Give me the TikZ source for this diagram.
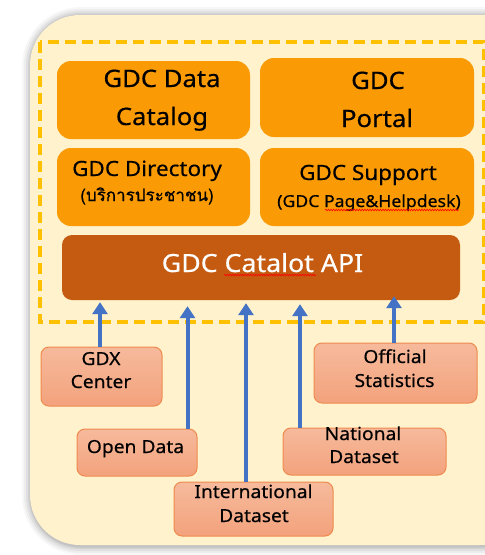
\documentclass[tikz,border=0pt]{standalone}
\usepackage{fontspec}
\setmainfont{Noto Sans}[FakeStretch=1.07,FakeBold=0.4]
\newfontfamily\thaifont[Script=Thai,FakeBold=0.4]{Loma}
\usetikzlibrary{arrows.meta,decorations.pathmorphing}
\definecolor{bgC}{HTML}{FFF2CC}
\definecolor{dashC}{HTML}{FFC000}
\definecolor{orangeC}{HTML}{FA9A05}
\definecolor{apiC}{HTML}{C55A11}
\definecolor{arrC}{HTML}{4472C4}
\definecolor{srcB}{HTML}{EF8A4E}
\definecolor{srcT}{HTML}{F6BA9C}
\definecolor{srcBot}{HTML}{F3A27C}
\newcommand\fBig{\fontsize{24pt}{28pt}\selectfont}
\newcommand\fMid{\fontsize{21pt}{25pt}\selectfont}
\newcommand\fSm{\fontsize{17pt}{20pt}\selectfont}
\newcommand\fSrc{\fontsize{18pt}{21pt}\selectfont}
\begin{document}
\begin{tikzpicture}[x=1pt,y=-1pt,
  box/.style={draw=none, fill=orangeC, rounded corners=14pt, inner sep=0pt},
  apibox/.style={draw=none, fill=apiC, rounded corners=10pt, inner sep=0pt},
  src/.style={draw=srcB, line width=1pt, top color=srcT, bottom color=srcBot, rounded corners=8pt, inner sep=0pt},
  txt/.style={anchor=base, inner sep=0pt, text=black},
  arr/.style={draw=arrC, line width=4pt, -{Triangle[width=15pt,length=12pt]}},
  squig/.style={draw=red, line width=0.6pt, decorate, decoration={snake, amplitude=0.8pt, segment length=2.6pt}}
]
\useasboundingbox (0,0) rectangle (485,555);
\fill[white] (0,0) rectangle (485,555);
\begin{scope}
\clip (0,0) rectangle (485,555);
% shadow
\foreach \w/\o in {18/0.03,14/0.04,10/0.05,6/0.06,3/0.07} {
  \draw[black, opacity=\o, line width=\w pt, rounded corners=50pt] (31,16) rectangle (532,546);
}
\fill[bgC, rounded corners=50pt] (30,15) rectangle (530,545);
\draw[dashC, line width=3.5pt, dash pattern=on 11pt off 6pt] (40,42) rectangle (483.5,322);

% top boxes
\node[box, minimum width=193pt, minimum height=78pt] (cat) at (153.5,100) {};
\node[txt] (catA) at (162,87) {\fBig GDC Data};
\node[txt] (catB) at (162,125) {\fBig Catalog};

\node[box, minimum width=214pt, minimum height=79pt] (por) at (367,97.5) {};
\node[txt] (porA) at (378,89) {\fBig GDC};
\node[txt] (porB) at (377,127) {\fBig Portal};

\node[box, minimum width=193pt, minimum height=78pt] (dir) at (153.5,187) {};
\node[txt] (dirA) at (147,176) {\fMid GDC Directory};
\node[txt] (dirB) at (147,201) {\thaifont\fSm (บริการประชาชน)};

\node[box, minimum width=214pt, minimum height=78pt] (sup) at (367,187) {};
\node[txt] (supA) at (368,180) {\fMid GDC Support};
\node[txt] (supB) at (369,207) {\fontsize{16.5pt}{19pt}\selectfont (GDC Page\&Helpdesk)};
\draw[squig] (325,210) -- (459,210);

\node[apibox, minimum width=398pt, minimum height=65pt] (api) at (261,267.5) {};
\node[txt, text=white] (apiT) at (262.5,272) {\fontsize{25pt}{29pt}\selectfont GDC Catalot API};
\draw[squig] (224,275) -- (316,275);

% sources
\node[src, minimum width=121pt, minimum height=59pt] (gdx) at (101.5,376.5) {};
\node[txt] (gdxA) at (101,365) {\fSrc GDX};
\node[txt] (gdxB) at (101,388) {\fSrc Center};

\node[src, minimum width=120pt, minimum height=47pt] (open) at (137,452.5) {};
\node[txt] (openA) at (135.5,453) {\fSrc Open Data};

\node[src, minimum width=159pt, minimum height=54pt] (intl) at (253.5,509) {};
\node[txt] (intlA) at (253.5,498) {\fSrc International};
\node[txt] (intlB) at (254,522) {\fSrc Dataset};

\node[src, minimum width=163pt, minimum height=47pt] (nat) at (364.5,451.5) {};
\node[txt] (natA) at (363,440) {\fSrc National};
\node[txt] (natB) at (364,463) {\fSrc Dataset};

\node[src, minimum width=163pt, minimum height=60pt] (off) at (395.5,373) {};
\node[txt] (offA) at (395,363) {\fSrc Official};
\node[txt] (offB) at (394.5,387) {\fSrc Statistics};

% arrows
\draw[arr, shorten >=2pt] ([xshift=-1.5pt]gdx.north) -- ([xshift=-1.5pt]gdx.north |- api.south);
\draw[arr, shorten >=6pt] ([xshift=50.5pt]open.north) -- ([xshift=50.5pt]open.north |- api.south);
\draw[arr, shorten >=3pt] ([xshift=-7.5pt]intl.north) -- ([xshift=-7.5pt]intl.north |- api.south);
\draw[arr, shorten >=4pt] ([xshift=-64.5pt]nat.north) -- ([xshift=-64.5pt]nat.north |- api.south);
\draw[arr, shorten >=-4pt] ([xshift=-1.5pt]off.north) -- ([xshift=-1.5pt]off.north |- api.south);
\end{scope}
\end{tikzpicture}
\end{document}
